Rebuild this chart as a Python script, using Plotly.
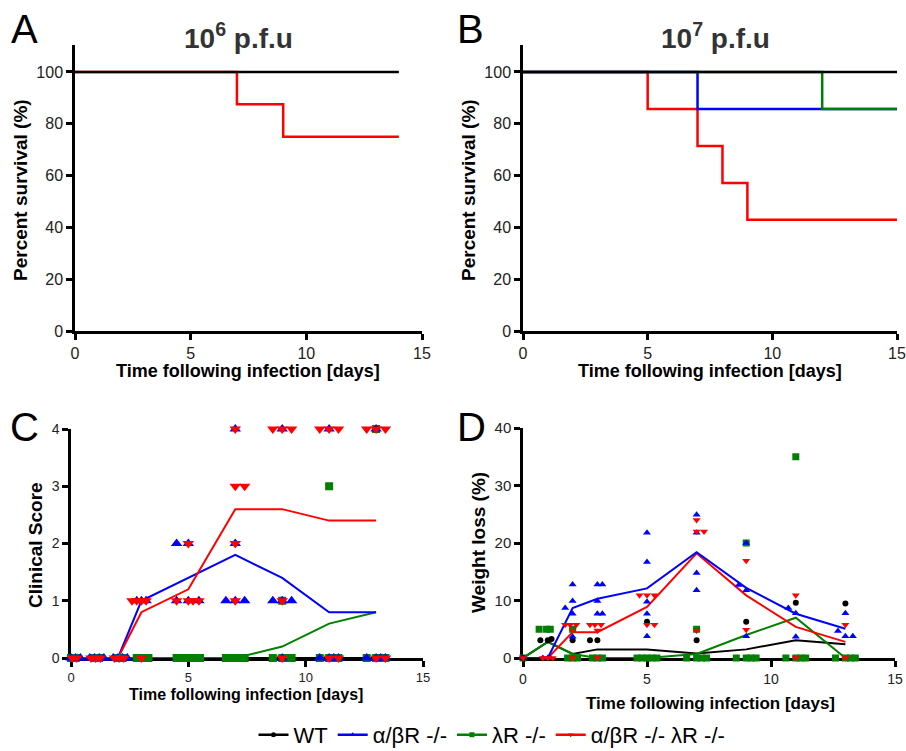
import plotly.graph_objects as go

W, H = 906, 751
def px(x): return x / W
def py(y): return 1 - y / H

FONT = "Arial, Liberation Sans, sans-serif"
RED, BLUE, GREEN, BLACK = "#FF0000", "#0000FF", "#008000", "#000000"

# ---------------- Panel A : survival 10^6 p.f.u ----------------
surv_a_wt_t = [0, 14]
surv_a_wt = [100, 100]
surv_a_dko_t = [0, 7, 9, 14]
surv_a_dko = [100, 87.5, 75, 75]

# ---------------- Panel B : survival 10^7 p.f.u ----------------
surv_b_wt_t = [0, 15]
surv_b_wt = [100, 100]
surv_b_ab_t = [0, 7, 15]
surv_b_ab = [100, 85.7, 85.7]
surv_b_l_t = [0, 12, 15]
surv_b_l = [100, 85.7, 85.7]
surv_b_dko_t = [0, 5, 7, 8, 9, 15]
surv_b_dko = [100, 85.7, 71.4, 57.1, 42.9, 42.9]

# ---------------- Panel C : clinical score ----------------
days = [0, 1, 2, 3, 5, 7, 9, 11, 13]
score_mean_wt = [0, 0, 0, 0, 0, 0, 0, 0, 0]
score_mean_ab = [0, 0, 0, 1.0, 1.4, 1.8, 1.4, 0.8, 0.8]
score_mean_l = [0, 0, 0, 0, 0, 0, 0.2, 0.6, 0.8]
score_mean_dko = [0, 0, 0, 0.8, 1.2, 2.6, 2.6, 2.4, 2.4]

score_ab_x = [0, 0.2, 0.4, 0.8, 1.0, 1.2, 1.4, 1.8, 2.0, 2.2, 2.4,
              2.8, 3.0, 3.2, 4.5, 5.0, 4.5, 5.0, 5.45,
              7.0, 7.0, 6.6, 7.0, 7.4, 9.0, 8.6, 9.0, 9.4, 9.0,
              11.0, 10.6, 11.2, 11.0, 11.4, 13.0, 12.6, 13.2, 13.0, 13.4]
score_ab_y = [0, 0, 0, 0, 0, 0, 0, 0, 0, 0, 0,
              1, 1, 1, 2, 2, 1, 1, 1,
              4, 2, 1, 1, 1, 4, 1, 1, 1, 0,
              4, 0, 0, 0, 0, 4, 0, 0, 0, 0]
score_l_x = [0, 0.2, 1.0, 1.2, 2.0, 2.2, 2.8, 3.0, 3.3,
             4.5, 4.7, 4.9, 5.1, 5.3, 5.5, 6.6, 6.8, 7.0, 7.2, 7.4,
             9.0, 8.6, 9.2, 9.4, 9.0, 11.0, 10.6, 11.0, 11.2, 11.4,
             13.0, 12.6, 13.0, 13.2, 13.4]
score_l_y = [0, 0, 0, 0, 0, 0, 0, 0, 0,
             0, 0, 0, 0, 0, 0, 0, 0, 0, 0, 0,
             1, 0, 0, 0, 0, 3, 0, 0, 0, 0,
             4, 0, 0, 0, 0]
score_dko_x = [0.05, 0.25, 0.85, 1.05, 1.25, 1.85, 2.05, 2.25,
               2.6, 2.8, 3.0, 3.2, 3.0, 5.0, 4.5, 5.0, 5.2, 5.45,
               7.0, 7.0, 7.4, 7.0, 7.0, 8.6, 9.0, 9.4, 9.0, 9.0,
               10.6, 11.0, 11.4, 11.0, 11.4, 12.6, 13.0, 13.4, 13.0, 13.4]
score_dko_y = [0, 0, 0, 0, 0, 0, 0, 0,
               1, 1, 1, 1, 0, 2, 1, 1, 1, 1,
               4, 3, 3, 2, 1, 4, 4, 4, 1, 0,
               4, 4, 4, 0, 0, 4, 4, 4, 0, 0]

# ---------------- Panel D : weight loss ----------------
wl_mean_wt = [0, 2.8, 0.7, 1.5, 1.5, 0.8, 1.5, 3.1, 2.4]
wl_mean_ab = [0, 0, 8.7, 10.3, 12.1, 18.4, 12.2, 7.7, 5.1]
wl_mean_l = [0, 2.8, 0.7, 0, 0, 0.7, 4.0, 7.0, 0]
wl_mean_dko = [0, 0, 4.5, 4.5, 8.9, 18.2, 10.9, 5.4, 2.8]

wl_wt_x = [0, 0.7, 1.0, 1.15, 2.0, 2.7, 3.0, 5.0, 7.0, 9.0, 11.0, 13.0]
wl_wt_y = [0, 3.1, 3.1, 3.3, 3.1, 3.1, 3.1, 6.3, 3.1, 6.3, 9.6, 9.5]
wl_ab_x = [0, 0.8, 1.0, 1.1, 1.7, 2.0, 2.0, 2.0, 2.0,
           3.0, 3.2, 3.0, 3.0, 3.2, 5.0, 5.0, 5.0, 5.0, 5.0,
           7.0, 7.0, 7.0, 7.0, 8.7, 9.0, 9.0, 9.0,
           10.7, 11.0, 11.0, 12.7, 13.0, 13.0, 13.3]
wl_ab_y = [0, 0, 0, 0, 8.7, 12.8, 9.9, 7.7, 3.7,
           12.8, 12.8, 9.9, 7.7, 7.7, 21.8, 16.7, 9.8, 7.7, 3.8,
           24.9, 21.8, 14.8, 11.8, 12.7, 11.8, 20.0, 3.8,
           8.7, 7.8, 3.7, 4.7, 7.8, 3.8, 3.8]
wl_l_x = [0, 0.65, 0.95, 1.1, 2.0, 1.8, 2.0, 2.2, 2.8, 3.0, 3.2,
          4.6, 4.8, 5.0, 5.2, 5.4, 7.0, 6.6, 7.0, 7.2, 7.4,
          9.0, 8.6, 9.0, 9.2, 9.4, 11.0, 10.6, 11.0, 11.2, 11.4,
          12.6, 13.0, 13.2, 13.4]
wl_l_y = [0, 5, 5, 5, 5, 0, 0, 0, 0, 0, 0,
          0, 0, 0, 0, 0, 5, 0, 0, 0, 0,
          20, 0, 0, 0, 0, 35, 0, 0, 0, 0,
          0, 0, 0, 0]
wl_dko_x = [0, 0.8, 1.0, 1.2, 1.7, 1.9, 2.15, 2.0, 2.0,
            2.7, 2.9, 3.15, 3.0, 3.0, 4.7, 5.0, 5.3, 5.0, 5.3,
            7.0, 7.0, 7.3, 7.0, 9.0, 9.0, 11.0, 11.0, 13.0, 13.0]
wl_dko_y = [0, 0, 0, 0, 5.8, 5.8, 5.8, 4.8, 0,
            5.8, 5.8, 5.8, 4.8, 0, 10.9, 10.9, 10.9, 5.8, 5.8,
            24.0, 22.0, 22.0, 4.8, 16.9, 4.9, 10.9, 0, 5.8, 0]

legend_names = ["WT", "α/βR -/-", "λR -/-", "α/βR -/- λR -/-"]
legend_colors = [BLACK, BLUE, GREEN, RED]
legend_symbols = ["circle", "triangle-up", "square", "triangle-down"]

fig = go.Figure()

def line(x, y, color, xa, ya, width=2.5, shape="hv"):
    fig.add_trace(go.Scatter(x=x, y=y, mode="lines", line=dict(color=color, width=width, shape=shape),
                             xaxis=xa, yaxis=ya, showlegend=False, hoverinfo="skip", cliponaxis=False))

def pts(x, y, color, symbol, size, xa, ya):
    fig.add_trace(go.Scatter(x=x, y=y, mode="markers",
                             marker=dict(color=color, symbol=symbol, size=size, line=dict(width=0)),
                             xaxis=xa, yaxis=ya, showlegend=False, cliponaxis=False))

# A
line(surv_a_dko_t, surv_a_dko, RED, "x", "y")
line(surv_a_wt_t, surv_a_wt, BLACK, "x", "y")
# B
line(surv_b_dko_t, surv_b_dko, RED, "x2", "y2")
line(surv_b_ab_t, surv_b_ab, BLUE, "x2", "y2")
line(surv_b_l_t, surv_b_l, GREEN, "x2", "y2")
line(surv_b_wt_t, surv_b_wt, BLACK, "x2", "y2")
# C
line(days, score_mean_wt, BLACK, "x3", "y3", 2, "linear")
line(days, score_mean_l, GREEN, "x3", "y3", 2, "linear")
line(days, score_mean_ab, BLUE, "x3", "y3", 2, "linear")
line(days, score_mean_dko, RED, "x3", "y3", 2, "linear")
pts(score_l_x, score_l_y, GREEN, "square", 8, "x3", "y3")
pts(score_ab_x, score_ab_y, BLUE, "triangle-up", 10, "x3", "y3")
pts(score_dko_x, score_dko_y, RED, "triangle-down", 10, "x3", "y3")
# D
line(days, wl_mean_wt, BLACK, "x4", "y4", 2, "linear")
line(days, wl_mean_l, GREEN, "x4", "y4", 2, "linear")
line(days, wl_mean_dko, RED, "x4", "y4", 2, "linear")
line(days, wl_mean_ab, BLUE, "x4", "y4", 2, "linear")
pts(wl_l_x, wl_l_y, GREEN, "square", 7, "x4", "y4")
pts(wl_wt_x, wl_wt_y, BLACK, "circle", 6, "x4", "y4")
pts(wl_ab_x, wl_ab_y, BLUE, "triangle-up", 7, "x4", "y4")
pts(wl_dko_x, wl_dko_y, RED, "triangle-down", 7, "x4", "y4")

# legend-only entries
for n, c, s in zip(legend_names, legend_colors, legend_symbols):
    fig.add_trace(go.Scatter(x=[None], y=[None], mode="lines+markers", name=n,
                             line=dict(color=c, width=2.5), marker=dict(color=c, symbol=s, size=5),
                             xaxis="x4", yaxis="y4"))

def xax(dom, size, anchor, layer="above traces"):
    return dict(domain=dom, range=[0, 15], tickvals=[0, 5, 10, 15], showline=True, linecolor="black",
                linewidth=2.5, ticks="outside", ticklen=6, tickwidth=2.5, tickcolor="black",
                showgrid=False, zeroline=False, tickfont=dict(family=FONT, size=size, color="#222"),
                anchor=anchor, layer=layer, fixedrange=True, automargin=False)

def yax(dom, rng, tv, size, anchor, layer="above traces"):
    return dict(domain=dom, range=rng, tickvals=tv, showline=True, linecolor="black",
                linewidth=2.5, ticks="outside", ticklen=6, tickwidth=2.5, tickcolor="black",
                showgrid=False, zeroline=False, tickfont=dict(family=FONT, size=size, color="#222"),
                anchor=anchor, layer=layer, fixedrange=True, automargin=False)

dAx = [px(75), px(422)]
dBx = [px(523), px(897)]
dCx = [px(71), px(423)]
dDx = [px(523), px(895)]
dABy = [py(331), py(45)]
dCy = [py(658), py(429)]
dDy = [py(658), py(428)]

annotations = []
def ann(text, x, y, size, bold=False, angle=0, color="black", xanchor="center"):
    t = f"<b>{text}</b>" if bold else text
    annotations.append(dict(text=t, x=px(x), y=py(y), xref="paper", yref="paper", showarrow=False,
                            font=dict(family=FONT, size=size, color=color), textangle=angle,
                            xanchor=xanchor, yanchor="middle"))

ann("A", 24, 29, 40)
ann("B", 470, 29, 40)
ann("C", 24, 427, 40)
ann("D", 471, 427, 40)
ann("10<sup>6</sup> p.f.u", 238, 36, 28, bold=True, color="#333")
ann("10<sup>7</sup> p.f.u", 715, 36, 28, bold=True, color="#333")
ann("Percent survival (%)", 20, 190, 19, bold=True, angle=-90)
ann("Percent survival (%)", 468, 190, 19, bold=True, angle=-90)
ann("Time following infection [days]", 248, 371, 18, bold=True)
ann("Time following infection [days]", 710, 371, 18, bold=True)
ann("Clinical Score", 35, 545, 19, bold=True, angle=-90)
ann("Weight loss (%)", 478, 543, 19, bold=True, angle=-90)
ann("Time following infection [days]", 246, 694, 16, bold=True)
ann("Time following infection [days]", 710, 703, 17, bold=True)

fig.update_layout(
    width=W, height=H, margin=dict(l=0, r=0, t=0, b=0, pad=0, autoexpand=False),
    paper_bgcolor="white", plot_bgcolor="white",
    font=dict(family=FONT, color="black"),
    xaxis=xax(dAx, 16, "y"), yaxis=yax(dABy, [0, 110.4], [0, 20, 40, 60, 80, 100], 16, "x"),
    xaxis2=xax(dBx, 16, "y2"), yaxis2=yax(dABy, [0, 110.4], [0, 20, 40, 60, 80, 100], 16, "x2"),
    xaxis3=xax(dCx, 13, "y3", "below traces"),
    yaxis3=yax(dCy, [0, 4], [0, 1, 2, 3, 4], 14, "x3", "below traces"),
    xaxis4=xax(dDx, 14, "y4", "below traces"),
    yaxis4=yax(dDy, [0, 40], [0, 10, 20, 30, 40], 15, "x4", "below traces"),
    legend=dict(orientation="h", x=px(492), y=py(735), xanchor="center", yanchor="middle",
                font=dict(family=FONT, size=22, color="black"), bgcolor="rgba(0,0,0,0)",
                itemwidth=30, tracegroupgap=0),
    annotations=annotations,
    showlegend=True,
)

fig.write_html("out.html", config={"displayModeBar": False},
               post_script="document.body.style.margin='0px';document.body.style.overflow='hidden';")
